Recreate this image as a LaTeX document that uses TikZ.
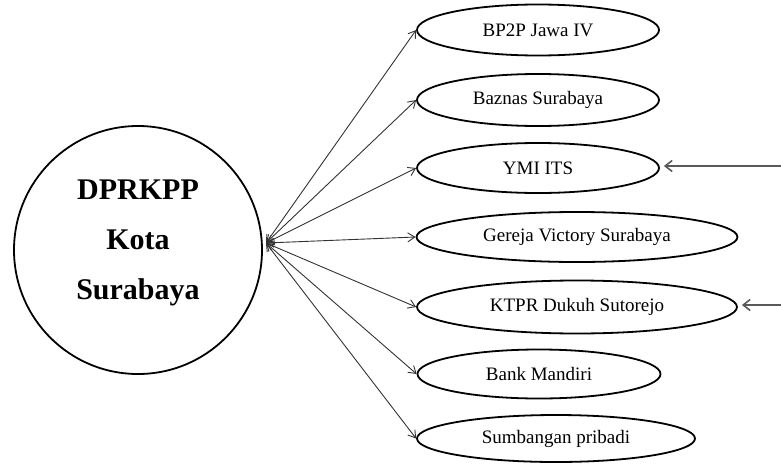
\documentclass[tikz,border=0pt]{standalone}
\usepackage{fontspec}
\setmainfont{Liberation Serif}
\usetikzlibrary{arrows.meta,shapes.geometric}
\begin{document}
\begin{tikzpicture}[x=1pt,y=-1pt,
  oval/.style={ellipse, draw=black, line width=1.8pt, inner sep=0pt, font=\fontsize{19}{23}\selectfont},
  link/.style={draw=black!80, line width=0.9pt, {Straight Barb[length=7pt,width=9pt]}-{Straight Barb[length=7pt,width=9pt]}},
  feed/.style={draw=black!65, line width=1.6pt, -{Straight Barb[length=7pt,width=11pt]}}]
\useasboundingbox (0,0) rectangle (781,463);
\node[circle, draw=black, line width=1.8pt, minimum size=248pt, inner sep=0pt] (c) at (138,250) {};
\node[font=\bfseries\fontsize{30}{50}\selectfont, align=center, inner sep=0pt] (ct) at (138,243) {DPRKPP\\Kota\\Surabaya};
\node[oval, minimum width=242pt, minimum height=51pt] (e1) at (538,30) {BP2P Jawa IV};
\node[oval, minimum width=242pt, minimum height=52pt] (e2) at (538,100) {Baznas Surabaya};
\node[oval, minimum width=242pt, minimum height=50pt] (e3) at (538,168) {YMI ITS};
\node[oval, minimum width=321pt, minimum height=50pt] (e4) at (577,237) {Gereja Victory Surabaya};
\node[oval, minimum width=320pt, minimum height=53pt] (e5) at (577,307) {KTPR Dukuh Sutorejo};
\node[oval, minimum width=243pt, minimum height=49pt] (e6) at (539,374) {Bank Mandiri};
\node[oval, minimum width=278pt, minimum height=47pt] (e7) at (556,438.5) {Sumbangan pribadi};
\coordinate (hub) at (266,243);
\foreach \n in {e1,e2,e3,e4,e5,e6,e7} \draw[link] (hub) -- (\n.west);
\coordinate (in1) at (781,166);
\coordinate (in2) at (781,305);
\draw[feed, shorten >=4pt] (in1) -- (in1 -| e3.east);
\draw[feed, shorten >=4pt] (in2) -- (in2 -| e5.east);
\end{tikzpicture}
\end{document}
